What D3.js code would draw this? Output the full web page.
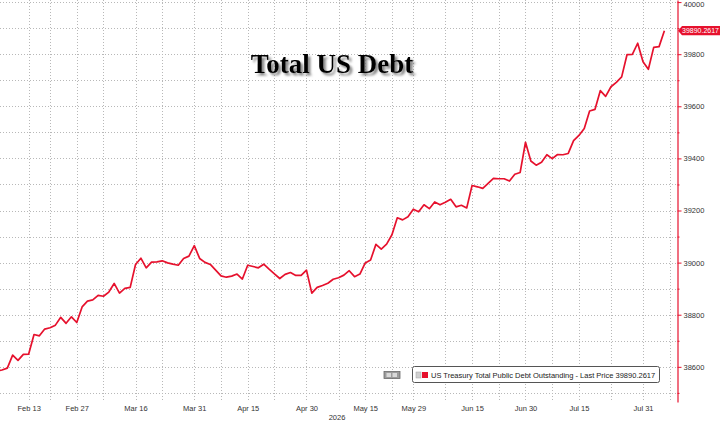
<!DOCTYPE html>
<html>
<head>
<meta charset="utf-8">
<script src="https://cdn.jsdelivr.net/npm/d3@7"></script>
<style>
  body { margin: 0; background: #fff; }
  svg { display: block; font-family: "Liberation Sans", Arial, sans-serif; }
</style>
</head>
<body>
<svg id="chart" width="720" height="422"></svg>
<script>
var width = 720;
var height = 422;
var plotRight = 677;
var plotBottom = 402;
var fontSize = 7.5;

// trading calendar (weekdays minus the days with no print)
var firstDay = "2026-02-05";
var lastDay = "2026-08-14";
var holidays = ["2026-02-16", "2026-04-03", "2026-05-25", "2026-06-19", "2026-07-03"];

// total public debt outstanding, $bn, one value per trading day from Feb 5
var debt = [
  38583, 38588, 38595, 38645, 38625, 38648, 38649, 38724, 38719, 38745,
  38750, 38760, 38790, 38767, 38792, 38770, 38830, 38852, 38857, 38874,
  38871, 38887, 38920, 38883, 38901, 38905, 38993, 39017, 38980, 39002,
  39003, 39007, 38999, 38994, 38990, 39016, 39025, 39065, 39016, 39001,
  38993, 38971, 38949, 38944, 38948, 38956, 38937, 38990, 38985, 38980,
  38994, 38975, 38957, 38939, 38955, 38962, 38951, 38951, 38971, 38883,
  38905, 38912, 38921, 38936, 38942, 38952, 38969, 38946, 38956, 38999,
  39010, 39070, 39052, 39071, 39107, 39172, 39164, 39176, 39205, 39195,
  39222, 39207, 39233, 39222, 39232, 39243, 39214, 39220, 39210, 39296,
  39291, 39285, 39304, 39323, 39322, 39322, 39313, 39339, 39346, 39462,
  39390, 39374, 39385, 39414, 39399, 39415, 39414, 39419, 39468, 39488,
  39515, 39582, 39588, 39660, 39638, 39675, 39692, 39713, 39798, 39799,
  39842, 39771, 39742, 39826, 39829, 39890.2617
];

var majorTicks = ["2026-02-13", "2026-02-27", "2026-03-16", "2026-03-31", "2026-04-15", "2026-04-30",
                  "2026-05-15", "2026-05-29", "2026-06-15", "2026-06-30", "2026-07-15", "2026-07-31"];
var minorTicks = ["2026-02-20", "2026-03-06", "2026-03-23", "2026-04-08", "2026-04-22", "2026-05-08",
                  "2026-05-22", "2026-06-08", "2026-06-23", "2026-07-08", "2026-07-23", "2026-08-07"];
var yMajor = [38600, 38800, 39000, 39200, 39400, 39600, 39800, 40000];
var yMinor = [38500, 38700, 38900, 39100, 39300, 39500, 39700, 39900];

var lastPrice = 39890.2617;
var seriesName = "US Treasury Total Public Debt Outstanding - Last Price";
var title = "Total US Debt";
var yearLabel = "2026";

var red = "#e6112d";

var parse = d3.timeParse("%Y-%m-%d");
var fmt = d3.timeFormat("%Y-%m-%d");
var days = d3.timeDay.range(parse(firstDay), d3.timeDay.offset(parse(lastDay), 1))
  .filter(d => d.getDay() % 6 !== 0 && holidays.indexOf(fmt(d)) < 0)
  .map(fmt);

var data = debt.map((v, i) => ({ date: days[i], value: v }));

var xScale = d3.scaleLinear()
  .domain([0.63, 127.36])
  .range([0, plotRight]);

var yScale = d3.scaleLinear()
  .domain([38465, 40008])
  .range([plotBottom, 0]);

var svg = d3.select("#chart");

var defs = svg.append("defs");
defs.append("clipPath").attr("id", "plot")
  .append("rect").attr("x", 0).attr("y", 0).attr("width", plotRight).attr("height", plotBottom);
defs.append("filter").attr("id", "shadow")
    .attr("x", "-10%").attr("y", "-30%").attr("width", "130%").attr("height", "180%")
  .append("feDropShadow")
    .attr("dx", 2.5).attr("dy", 2.5).attr("stdDeviation", 1.3)
    .attr("flood-color", "#666").attr("flood-opacity", 0.8);

// grid
var grid = svg.append("g").attr("stroke", "#b8b8b8").attr("stroke-width", 1).attr("stroke-dasharray", "1,2");

grid.selectAll("line.h")
  .data(yMajor.concat(yMinor))
  .enter().append("line")
    .attr("x1", 0).attr("x2", plotRight)
    .attr("y1", d => Math.round(yScale(d)) + 0.5)
    .attr("y2", d => Math.round(yScale(d)) + 0.5);

grid.selectAll("line.v")
  .data(majorTicks.concat(minorTicks))
  .enter().append("line")
    .attr("x1", d => Math.round(xScale(days.indexOf(d))) + 0.5)
    .attr("x2", d => Math.round(xScale(days.indexOf(d))) + 0.5)
    .attr("y1", 0).attr("y2", 400);

// title
svg.append("text")
  .attr("x", 332)
  .attr("y", 73)
  .attr("text-anchor", "middle")
  .attr("font-family", "'Liberation Serif', 'Times New Roman', serif")
  .attr("font-weight", "bold")
  .attr("font-size", 27)
  .attr("fill", "#000")
  .attr("filter", "url(#shadow)")
  .text(title);

// series line
var line = d3.line()
  .x(d => xScale(days.indexOf(d.date)))
  .y(d => yScale(d.value));

svg.append("path")
  .datum(data)
  .attr("clip-path", "url(#plot)")
  .attr("fill", "none")
  .attr("stroke", red)
  .attr("stroke-width", 1.7)
  .attr("stroke-linejoin", "round")
  .attr("d", line);

// right axis
var yAxis = d3.axisRight(yScale)
  .tickValues(yMajor)
  .tickSize(4)
  .tickSizeOuter(0)
  .tickPadding(2)
  .tickFormat(d3.format("d"));

var yg = svg.append("g")
  .attr("transform", "translate(" + (plotRight + 0.5) + ",0)")
  .call(yAxis);
yg.select(".domain").attr("stroke", red).attr("stroke-width", 1.2);
yg.selectAll(".tick line").attr("stroke", red);
yg.selectAll(".tick text")
  .attr("fill", "#333")
  .attr("font-size", fontSize)
  .attr("font-family", null)
  .attr("dy", d => d === 40000 ? "0.62em" : "0.32em");

var yMinorAxis = d3.axisRight(yScale)
  .tickValues(yMinor)
  .tickSize(2)
  .tickFormat("");
var ymg = svg.append("g")
  .attr("transform", "translate(" + (plotRight + 0.5) + ",0)")
  .call(yMinorAxis);
ymg.select(".domain").remove();
ymg.selectAll(".tick line").attr("stroke", red);

// bottom axis labels
var labelFmt = d3.timeFormat("%b %d");
var xAxis = d3.axisBottom(xScale)
  .tickValues(majorTicks.map(d => days.indexOf(d)))
  .tickSize(0)
  .tickPadding(4)
  .tickFormat(i => labelFmt(parse(days[i])));

var xg = svg.append("g")
  .attr("transform", "translate(0," + plotBottom + ")")
  .call(xAxis);
xg.select(".domain").remove();
xg.selectAll(".tick text").attr("fill", "#333").attr("font-size", fontSize).attr("font-family", null);

svg.append("text")
  .attr("x", 337)
  .attr("y", 420)
  .attr("text-anchor", "middle")
  .attr("font-size", fontSize)
  .attr("fill", "#333")
  .text(yearLabel);

// last price tag
var ly = yScale(lastPrice);
svg.append("path")
  .attr("d", "M678," + ly + "L682," + (ly - 4.6) + "L720," + (ly - 4.6) + "L720," + (ly + 4.6) + "L682," + (ly + 4.6) + "Z")
  .attr("fill", red);
svg.append("text")
  .attr("x", 682)
  .attr("y", ly)
  .attr("dy", "0.36em")
  .attr("font-size", 7)
  .attr("fill", "#fff")
  .text(d3.format(".4f")(lastPrice));

// legend
var lg = svg.append("g");
lg.append("rect")
  .attr("x", 384).attr("y", 371.5).attr("width", 16).attr("height", 7)
  .attr("fill", "#9c9c9c").attr("stroke", "#6a6a6a").attr("stroke-width", 0.8);
lg.append("rect")
  .attr("x", 386.5).attr("y", 373).attr("width", 4.5).attr("height", 4)
  .attr("fill", "#d9d9d9");
lg.append("rect")
  .attr("x", 392.5).attr("y", 373).attr("width", 4.5).attr("height", 4)
  .attr("fill", "#d9d9d9");

lg.append("rect")
  .attr("x", 412.5).attr("y", 366.5).attr("width", 247).attr("height", 16)
  .attr("rx", 2)
  .attr("fill", "#fff").attr("stroke", "#555").attr("stroke-width", 1);
lg.append("rect")
  .attr("x", 416).attr("y", 372).attr("width", 5).attr("height", 6)
  .attr("fill", "#d0d0d0").attr("stroke", "#a0a0a0").attr("stroke-width", 0.5);
lg.append("rect")
  .attr("x", 422).attr("y", 372).attr("width", 6).attr("height", 6)
  .attr("fill", red);
lg.append("text")
  .attr("x", 431)
  .attr("y", 377.8)
  .attr("font-size", fontSize)
  .attr("fill", "#222")
  .text(seriesName + " " + d3.format(".4f")(lastPrice));
</script>
</body>
</html>
